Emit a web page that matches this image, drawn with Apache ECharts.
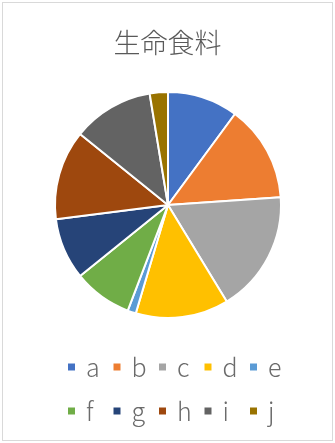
<!DOCTYPE html>
<html>
<head>
<meta charset="utf-8">
<script src="https://cdn.jsdelivr.net/npm/echarts@6/dist/echarts.min.js"></script>
<style>
  html, body { margin: 0; padding: 0; background: #fff; }
  #frame { position: absolute; left: 2px; top: 2px; width: 329px; height: 437px; border: 1px solid #d9d9d9; box-sizing: content-box; }
  #chart { width: 335px; height: 443px; position: absolute; left: 0; top: 0; }
</style>
</head>
<body>
<div id="frame"></div>
<div id="chart"></div>
<script>
// Categories and their shares of the pie
const categories = ['a', 'b', 'c', 'd', 'e', 'f', 'g', 'h', 'i', 'j'];
const values = [10.1, 13.8, 17.4, 13.3, 1.2, 8.4, 8.8, 12.8, 11.6, 2.6];
const colors = ['#4472C4', '#ED7D31', '#A5A5A5', '#FFC000', '#5B9BD5',
                '#70AD47', '#264478', '#9E480E', '#636363', '#997300'];
const titleText = '生命食料';

const chart = echarts.init(document.getElementById('chart'), null, { renderer: 'canvas' });

const legendBase = {
  orient: 'horizontal',
  left: 66,
  padding: 0,
  itemWidth: 9,
  itemHeight: 9,
  itemGap: 6.5,
  icon: 'rect',
  selectedMode: false,
  textStyle: {
    fontFamily: 'Noto Sans CJK JP',
    fontSize: 25,
    fontWeight: 300,
    color: '#6b6b6b',
    width: 19,
    lineHeight: 28,
    padding: [0, 0, 0, 5]
  }
};

chart.setOption({
  animation: false,
  color: colors,
  title: {
    text: titleText,
    left: 'center',
    top: 24,
    textStyle: {
      fontFamily: 'Noto Sans CJK JP',
      fontSize: 27,
      fontWeight: 300,
      color: '#595959'
    }
  },
  legend: [
    Object.assign({}, legendBase, { top: 353, data: categories.slice(0, 5) }),
    Object.assign({}, legendBase, { top: 397, data: categories.slice(5) })
  ],
  series: [{
    type: 'pie',
    center: [168, 205],
    radius: 113,
    startAngle: 90,
    clockwise: true,
    label: { show: false },
    labelLine: { show: false },
    emphasis: { disabled: true },
    itemStyle: { borderColor: '#fff', borderWidth: 2 },
    data: categories.map((c, i) => ({ name: c, value: values[i] }))
  }]
});
</script>
</body>
</html>
